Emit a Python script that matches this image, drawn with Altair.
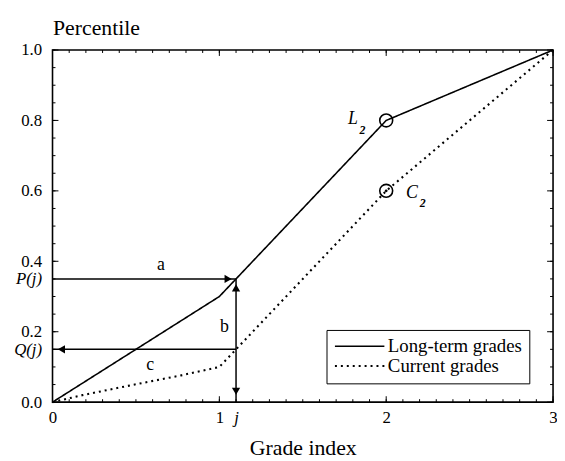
import altair as alt
import pandas as pd

# ---- data ----
long_x = [0, 1, 2, 3]
long_y = [0.0, 0.3, 0.8, 1.0]
cur_x = [0, 0.18, 0.47, 0.77, 1, 2, 3]
cur_y = [0.0, 0.02, 0.048, 0.076, 0.1, 0.6, 1.0]
series_names = ["Long-term grades", "Current grades"]

j_val = 1.1
P_j = 0.35
Q_j = 0.15

x_label_values = [0, 1, j_val, 2, 3]
y_label_values = [0.0, 0.2, 0.4, 0.6, 0.8, 1.0, P_j, Q_j]

x_minor = [round(i * 0.1, 1) for i in range(31)]
x_major = [0, 1, 2, 3]
y_minor = [round(i * 0.05, 2) for i in range(21)]
y_major = [0.0, 0.2, 0.4, 0.6, 0.8, 1.0]

circle_x = [2, 2]
circle_y = [0.8, 0.6]

W, H = 506, 356
FONT = "Liberation Serif"

x_scale = alt.Scale(domain=[0, 3], nice=False, zero=False)
y_scale = alt.Scale(domain=[0, 1], nice=False, zero=False)

lines_df = pd.DataFrame(
    {"x": long_x + cur_x,
     "y": long_y + cur_y,
     "series": [series_names[0]] * len(long_x) + [series_names[1]] * len(cur_x)}
)

x_axis = alt.Axis(
    values=x_label_values, ticks=False, domain=False, grid=False,
    labelExpr="abs(datum.value - 1.1) < 0.001 ? 'j' : format(datum.value, 'd')",
    labelFontStyle={"condition": {"test": "abs(datum.value - 1.1) < 0.001", "value": "italic"}, "value": "normal"},
    labelFont=FONT, labelFontSize=17, labelPadding=8, labelColor="black",
    labelOverlap=False, labelFlush=False,
    title="Grade index", titleFont=FONT, titleFontSize=22, titleFontWeight="normal",
    titleColor="black", titleY=53, titleBaseline="alphabetic",
)
y_axis = alt.Axis(
    values=y_label_values, ticks=False, domain=False, grid=False,
    labelExpr="abs(datum.value - 0.35) < 0.001 ? 'P(j)' : (abs(datum.value - 0.15) < 0.001 ? 'Q(j)' : format(datum.value, '.1f'))",
    labelFontStyle={"condition": {"test": "abs(datum.value - 0.35) < 0.001 || abs(datum.value - 0.15) < 0.001", "value": "italic"}, "value": "normal"},
    labelFont=FONT, labelFontSize=17, labelPadding=11, labelColor="black",
    labelOverlap=False, labelFlush=False,
    title="Percentile", titleFont=FONT, titleFontSize=22, titleFontWeight="normal",
    titleColor="black", titleAngle=0, titleAlign="left", titleX=0, titleY=-16,
    titleBaseline="alphabetic",
)

def X(field="x"):
    return alt.X(f"{field}:Q", scale=x_scale, axis=x_axis)

def Y(field="y"):
    return alt.Y(f"{field}:Q", scale=y_scale, axis=y_axis)

lines = alt.Chart(lines_df).mark_line(color="black").encode(
    x=X(),
    y=Y(),
    strokeDash=alt.StrokeDash(
        "series:N",
        scale=alt.Scale(domain=series_names, range=[[1, 0], [2, 4]]),
        legend=alt.Legend(
            orient="none", legendX=277, legendY=283, title=None,
            strokeColor="black", fillColor="white", padding=7,
            symbolType="stroke", symbolSize=2500, symbolStrokeWidth=1.5,
            symbolStrokeColor="black", labelFont=FONT, labelFontSize=19,
            labelColor="black", labelOffset=2, clipHeight=19, rowPadding=0,
        ),
    ),
    strokeWidth=alt.StrokeWidth(
        "series:N", scale=alt.Scale(domain=series_names, range=[1.6, 2.1]), legend=None
    ),
    detail="series:N",
)

# ---- tick marks (inward, all four sides) ----
def xtick_layer(vals, y0, y1):
    return alt.Chart(pd.DataFrame({"v": vals})).mark_rule(color="black", strokeWidth=1).encode(
        x=X("v"), y=alt.value(y0), y2=alt.value(y1))

def ytick_layer(vals, x0, x1):
    return alt.Chart(pd.DataFrame({"v": vals})).mark_rule(color="black", strokeWidth=1).encode(
        y=Y("v"), x=alt.value(x0), x2=alt.value(x1))

ticks = [
    xtick_layer(x_minor, H, H - 3), xtick_layer(x_major, H, H - 6),
    xtick_layer(x_minor, 0, 3), xtick_layer(x_major, 0, 6),
    ytick_layer(y_minor, 0, 3), ytick_layer(y_major, 0, 6),
    ytick_layer(y_minor, W, W - 3), ytick_layer(y_major, W, W - 6),
]

# ---- arrows ----
arrows_df = pd.DataFrame({
    "x": [0, j_val, j_val],
    "x2": [j_val, j_val, 0],
    "y": [P_j, 0, Q_j],
    "y2": [P_j, P_j, Q_j],
})
arrow_lines = alt.Chart(arrows_df).mark_rule(color="black", strokeWidth=1.5).encode(
    x=X("x"), x2="x2:Q", y=Y("y"), y2="y2:Q")

def head(xv, yv, shape, dx=0, dy=0):
    return alt.Chart(pd.DataFrame({"x": [xv], "y": [yv]})).mark_point(
        shape=shape, filled=True, color="black", size=70, opacity=1,
        xOffset=dx, yOffset=dy).encode(x=X(), y=Y())

heads = [
    head(j_val, P_j, "triangle-right", dx=-8),
    head(j_val, P_j, "triangle-up", dy=9),
    head(j_val, 0, "triangle-down", dy=-11),
    head(0, Q_j, "triangle-left", dx=9),
]

# ---- circles at grade 2 ----
circles = alt.Chart(pd.DataFrame({"x": circle_x, "y": circle_y})).mark_point(
    shape="circle", filled=False, color="black", size=170, strokeWidth=1.6, opacity=1
).encode(x=X(), y=Y())
center_dot = alt.Chart(pd.DataFrame({"x": [circle_x[1]], "y": [circle_y[1]]})).mark_point(
    shape="circle", filled=True, color="black", size=8, opacity=1
).encode(x=X(), y=Y())

# ---- text annotations ----
letters_df = pd.DataFrame({"x": [0.65, 1.03, 0.585], "y": [0.39, 0.213, 0.104], "t": ["a", "b", "c"]})
letters = alt.Chart(letters_df).mark_text(font=FONT, fontSize=18, color="black", align="center",
                                          baseline="middle").encode(x=X(), y=Y(), text="t:N")

big_df = pd.DataFrame({"x": [1.80, 2.154], "y": [0.803, 0.593], "t": ["L", "C"]})
big = alt.Chart(big_df).mark_text(font=FONT, fontSize=18, fontStyle="italic", color="black",
                                  align="center", baseline="middle").encode(x=X(), y=Y(), text="t:N")
sub_df = pd.DataFrame({"x": [1.858, 2.219], "y": [0.772, 0.565], "t": ["2", "2"]})
sub = alt.Chart(sub_df).mark_text(font=FONT, fontSize=12, fontStyle="italic", fontWeight="bold",
                                  color="black", align="center", baseline="middle").encode(
    x=X(), y=Y(), text="t:N")

chart = alt.layer(
    lines, *ticks, arrow_lines, *heads, circles, center_dot, letters, big, sub
).properties(
    width=W, height=H,
    autosize=alt.AutoSizeParams(type="none"),
    padding={"left": 45, "top": 40, "right": 4, "bottom": 55},
    background="white",
).configure_view(
    stroke="black", strokeWidth=1.6
).configure_axis(
    grid=False
)

chart.save("out.html", embed_options={"renderer": "svg", "actions": False})
